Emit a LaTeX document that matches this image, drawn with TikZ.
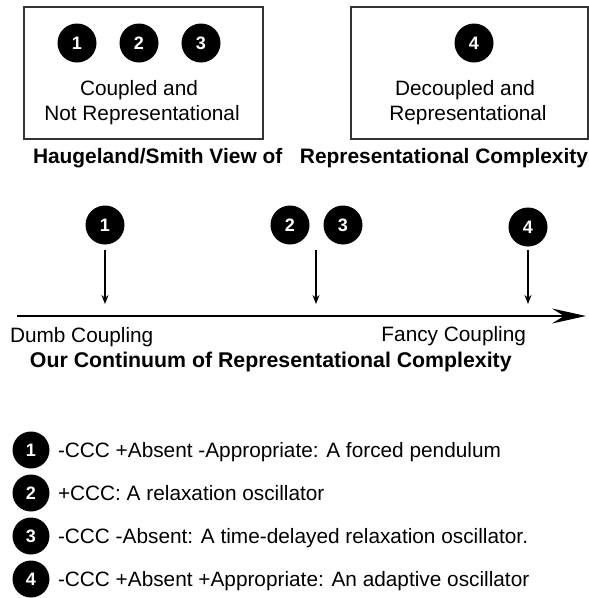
\documentclass[tikz,border=0pt]{standalone}
\usepackage{fontspec}
\setmainfont{Liberation Sans}
\usetikzlibrary{arrows.meta}
\begin{document}
\begin{tikzpicture}[x=1pt,y=-1pt,
  every node/.style={inner sep=0pt,outer sep=0pt},
  txt/.style={font=\fontsize{20.8}{25}\selectfont},
  ttl/.style={font=\bfseries\fontsize{21.3}{25}\selectfont},
  ttlb/.style={font=\bfseries\fontsize{20.9}{25}\selectfont},
  num/.style={circle,fill=black,minimum size=39pt,text=white,font=\bfseries\fontsize{18}{18}\selectfont},
  lnum/.style={num,minimum size=37pt},
  frame/.style={draw=black!80,line width=1.3pt,minimum width=239pt,minimum height=132pt},
  ptr/.style={-{Stealth[length=9pt,width=7pt,inset=3pt]},line width=1.2pt},
  axis/.style={-{Stealth[length=34pt,width=15pt,inset=12pt]},line width=1.5pt}
]
\useasboundingbox (0,0) rectangle (589,598);

% top boxes
\node[frame] (boxA) at (143.5,73) {};
\node[frame,minimum width=237pt] (boxB) at (469.5,73) {};
\node[num] (a1) at (77,43) {1};
\node[num] (a2) at (139,43) {2};
\node[num] (a3) at (201,43) {3};
\node[num] (b4) at (474,43) {4};
\node[txt,anchor=base] (ta1) at (139,95) {Coupled and};
\node[txt,anchor=base] (ta2) at (142,120) {Not Representational};
\node[txt,anchor=base] (tb1) at (465,95) {Decoupled and};
\node[txt,anchor=base] (tb2) at (468,120) {Representational};
\node[ttlb,anchor=base west] (t1) at (33,163) {Haugeland/Smith View of};
\node[ttlb,anchor=base east] (t2) at (588,163) {Representational Complexity};

% continuum
\node[num] (m1) at (105,225) {1};
\node[num] (m2) at (290,225) {2};
\node[num] (m3) at (343,225) {3};
\node[num] (m4) at (528,227) {4};
\coordinate (e1) at (105,304);
\coordinate (s23) at (316,250);
\coordinate (e23) at (316,304);
\coordinate (e4) at (528,304);
\draw[ptr,shorten <=5pt] (m1) -- (e1);
\draw[ptr] (s23) -- (e23);
\draw[ptr,shorten <=3pt] (m4) -- (e4);
\coordinate (ax0) at (17,316);
\coordinate (ax1) at (586,316);
\draw[axis] (ax0) -- (ax1);
\node[txt,anchor=base west] (dumb) at (10,342) {Dumb Coupling};
\node[txt,anchor=base east] (fancy) at (526,341) {Fancy Coupling};
\node[ttl,anchor=base west] (cont) at (30,367) {Our Continuum of Representational Complexity};

% legend
\node[lnum] (l1) at (31,450) {1};
\node[lnum] (l2) at (31,493) {2};
\node[lnum] (l3) at (31,536) {3};
\node[lnum] (l4) at (31,579) {4};
\node[txt,anchor=base west] (d1) at (58,457) {-CCC +Absent -Appropriate: A forced pendulum};
\node[txt,anchor=base west] (d2) at (58,500) {+CCC: A relaxation oscillator};
\node[txt,anchor=base west] (d3) at (58,543) {-CCC -Absent: A time-delayed relaxation oscillator.};
\node[txt,anchor=base west] (d4) at (58,586) {-CCC +Absent +Appropriate: An adaptive oscillator};
\end{tikzpicture}
\end{document}
